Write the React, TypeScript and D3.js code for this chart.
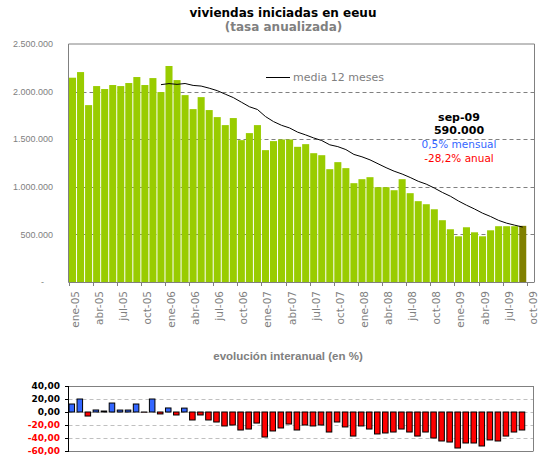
import React from "react";
import * as d3 from "d3";

// ---------- data ----------
const months = [
  "ene-05","feb-05","mar-05","abr-05","may-05","jun-05","jul-05","ago-05","sep-05","oct-05","nov-05","dic-05",
  "ene-06","feb-06","mar-06","abr-06","may-06","jun-06","jul-06","ago-06","sep-06","oct-06","nov-06","dic-06",
  "ene-07","feb-07","mar-07","abr-07","may-07","jun-07","jul-07","ago-07","sep-07","oct-07","nov-07","dic-07",
  "ene-08","feb-08","mar-08","abr-08","may-08","jun-08","jul-08","ago-08","sep-08","oct-08","nov-08","dic-08",
  "ene-09","feb-09","mar-09","abr-09","may-09","jun-09","jul-09","ago-09","sep-09",
];

// housing starts, annualized rate (thousands)
const starts = [
  2146, 2205, 1858, 2058, 2027, 2069, 2058, 2090, 2153, 2069, 2142, 1995,
  2269, 2121, 1963, 1816, 1942, 1806, 1732, 1648, 1722, 1490, 1564, 1648,
  1385, 1480, 1497, 1497, 1420, 1448, 1353, 1332, 1185, 1259, 1196, 1038,
  1080, 1101, 996, 996, 964, 1080, 933, 849, 817, 764, 649, 554,
  480, 575, 522, 480, 543, 586, 586, 586, 590,
];

// 12-month average (thousands), starting at dic-05
const maStartMonth = "dic-05";
const movingAvg = [
  2073, 2084, 2076, 2085, 2065, 2058, 2036, 2010, 1973, 1937,
  1889, 1841, 1812, 1738, 1685, 1646, 1618, 1574, 1545, 1513,
  1486, 1441, 1422, 1391, 1340, 1315, 1283, 1242, 1201, 1164,
  1134, 1098, 1058, 1028, 987, 941, 901, 851, 807, 767,
  723, 688, 647, 618, 597, 577,
];

// year-over-year change (%)
const yoy = [
  12.3, 20, -6.2, 3.1, 1.5, 13.8, 3, 3, 12.3, -0.3, 20, -3,
  6.2, -4.6, 6, -12.3, -4.6, -12.3, -15.4, -21.5, -20, -27.7, -26.2, -17,
  -38.5, -29.2, -24.6, -18.5, -27.7, -20, -21.5, -20, -30.8, -15.4, -23, -37,
  -21.5, -26.2, -33.8, -32.3, -30.8, -26.2, -30.8, -37, -30.8, -40, -44.6, -46.2,
  -55.4, -47.7, -47.7, -52.3, -43, -44.6, -37, -30.8, -27.7,
];

const xTickLabels = [
  "ene-05","abr-05","jul-05","oct-05","ene-06","abr-06","jul-06","oct-06",
  "ene-07","abr-07","jul-07","oct-07","ene-08","abr-08","jul-08","oct-08",
  "ene-09","abr-09","jul-09","oct-09",
];
const mainYTicks = [0, 500000, 1000000, 1500000, 2000000, 2500000];
const yoyTicks = [40, 20, 0, -20, -40, -60];

const titleText = "viviendas iniciadas en eeuu";
const subtitleText = "(tasa anualizada)";
const legendText = "media 12 meses";
const annoMonth = "sep-09";
const annoValue = "590.000";
const annoMonthly = "0,5% mensual";
const annoAnnual = "-28,2% anual";
const bottomTitle = "evolución interanual (en %)";

// ---------- helpers ----------
const esLocale = d3.formatLocale({
  decimal: ",",
  thousands: ".",
  grouping: [3],
  currency: ["", "€"],
  minus: "-",
});
const fmtInt = esLocale.format(",d");
const fmtPct = esLocale.format(",.2f");

const GREEN = "#99cc00";
const OLIVE = "#808000";
const BLUE = "#3366ff";
const RED = "#ff0000";
const GRAY = "#808080";

export default function App() {
  const nSlots = months.length + 1;
  const x = d3.scaleLinear().domain([0, nSlots]).range([68.5, 534.8]);
  const slot = x(1) - x(0);

  const y = d3.scaleLinear().domain([0, 2500000]).range([282, 44]);
  const yb = d3.scaleLinear().domain([-60, 40]).range([451, 386]);

  const maStart = months.indexOf(maStartMonth);
  const line = d3
    .line<number>()
    .x((_, i) => x(maStart + i) + slot / 2)
    .y((v) => y(v * 1000));

  const mainLeft = x(0);
  const mainRight = 534.5;
  const top = y(2500000);
  const bottom = y(0);

  const bLeft = 68.5;
  const bRight = 533.5;

  return (
    <svg
      width={542}
      height={471}
      style={{ position: "absolute", left: 0, top: 0, background: "#ffffff" }}
    >
      {/* titles */}
      <text x={283} y={17} textAnchor="middle" fontFamily="DejaVu Sans" fontWeight="bold" fontSize={12} fill="#000">
        {titleText}
      </text>
      <text x={283.5} y={31} textAnchor="middle" fontFamily="DejaVu Sans" fontWeight="bold" fontSize={12} fill={GRAY}>
        {subtitleText}
      </text>

      {/* main gridlines */}
      {mainYTicks.slice(1, -1).map((t) => (
        <line
          key={"g" + t}
          x1={mainLeft}
          x2={mainRight}
          y1={Math.round(y(t)) + 0.5}
          y2={Math.round(y(t)) + 0.5}
          stroke={GRAY}
          strokeDasharray="4,3"
        />
      ))}

      {/* bars */}
      {starts.map((v, i) => (
        <rect
          key={"b" + i}
          x={x(i) + 0.5}
          width={slot - 1}
          y={y(v * 1000)}
          height={bottom - y(v * 1000)}
          fill={i === starts.length - 1 ? OLIVE : GREEN}
        />
      ))}

      {/* moving average */}
      <path d={line(movingAvg) || ""} fill="none" stroke="#000" strokeWidth={1} />

      {/* frame */}
      <line x1={mainLeft} x2={mainRight} y1={top} y2={top} stroke={GRAY} />
      <line x1={mainRight} x2={mainRight} y1={top} y2={bottom} stroke={GRAY} />
      <line x1={mainLeft} x2={mainLeft} y1={top} y2={bottom + 0.5} stroke={GRAY} />
      <line x1={mainLeft} x2={mainRight} y1={bottom + 0.5} y2={bottom + 0.5} stroke={GRAY} />

      {/* main y labels */}
      {mainYTicks.map((t) => (
        <text
          key={"yl" + t}
          x={t === 0 ? 44 : 53}
          y={y(t)}
          dy="0.35em"
          textAnchor="end"
          fontFamily="Liberation Sans"
          fontSize={9}
          fill={GRAY}
        >
          {t === 0 ? "-" : fmtInt(t)}
        </text>
      ))}

      {/* x ticks + labels */}
      {xTickLabels.map((lab, k) => {
        const xi = Math.round(x(k * 3)) + 0.5;
        return (
          <g key={"xt" + lab}>
            <line x1={xi} x2={xi} y1={bottom} y2={bottom + 4} stroke={GRAY} />
            <text
              transform={`translate(${xi + 5.5},291) rotate(-90)`}
              dy="0.35em"
              textAnchor="end"
              fontFamily="DejaVu Sans"
              fontSize={10.5}
              fill={GRAY}
            >
              {lab}
            </text>
          </g>
        );
      })}

      {/* legend */}
      <line x1={266} x2={290} y1={77.5} y2={77.5} stroke="#000" />
      <text x={293} y={81} fontFamily="DejaVu Sans" fontSize={11} fill={GRAY}>
        {legendText}
      </text>

      {/* annotation */}
      <g textAnchor="middle">
        <text x={459} y={121} fontFamily="DejaVu Sans" fontWeight="bold" fontSize={11} fill="#000">
          {annoMonth}
        </text>
        <text x={459} y={134} fontFamily="DejaVu Sans" fontWeight="bold" fontSize={11} fill="#000">
          {annoValue}
        </text>
        <text x={459} y={147.5} fontFamily="DejaVu Sans" fontSize={10.5} fill={BLUE}>
          {annoMonthly}
        </text>
        <text x={459} y={162} fontFamily="DejaVu Sans" fontSize={10.5} fill={RED}>
          {annoAnnual}
        </text>
      </g>

      {/* bottom chart title */}
      <text x={288} y={360} textAnchor="middle" fontFamily="Liberation Sans" fontWeight="bold" fontSize={11.5} fill={GRAY}>
        {bottomTitle}
      </text>

      {/* bottom gridlines */}
      {yoyTicks.slice(1, -1).map((t) => (
        <line
          key={"bg" + t}
          x1={bLeft}
          x2={bRight}
          y1={Math.round(yb(t)) + 0.5}
          y2={Math.round(yb(t)) + 0.5}
          stroke="#c0c0c0"
          strokeDasharray="4,3"
        />
      ))}

      {/* bottom bars */}
      {yoy.map((v, i) => {
        const y0 = yb(0);
        const y1 = yb(v);
        return (
          <rect
            key={"yb" + i}
            x={x(i) + 0.5}
            width={slot - 2.5}
            y={Math.min(y0, y1)}
            height={Math.abs(y1 - y0)}
            fill={v >= 0 ? BLUE : RED}
            stroke="#000"
            strokeWidth={1}
          />
        );
      })}

      {/* bottom frame */}
      <line x1={bLeft} x2={bRight} y1={yb(40) + 0.5} y2={yb(40) + 0.5} stroke={GRAY} />
      <line x1={bRight} x2={bRight} y1={yb(40)} y2={yb(-60)} stroke={GRAY} />
      <line x1={bLeft} x2={bRight} y1={yb(-60) + 0.5} y2={yb(-60) + 0.5} stroke={GRAY} />
      <line x1={bLeft} x2={bLeft} y1={yb(40)} y2={yb(-60) + 1} stroke="#000" />

      {/* bottom y labels */}
      {yoyTicks.map((t) => (
        <g key={"byl" + t}>
          <line x1={65} x2={bLeft} y1={Math.round(yb(t)) + 0.5} y2={Math.round(yb(t)) + 0.5} stroke="#000" />
          <text
            x={60}
            y={yb(t)}
            dy="0.35em"
            textAnchor="end"
            fontFamily="DejaVu Sans"
            fontWeight="bold"
            fontSize={9}
            fill={t < 0 ? RED : "#000"}
          >
            {fmtPct(t)}
          </text>
        </g>
      ))}
    </svg>
  );
}
